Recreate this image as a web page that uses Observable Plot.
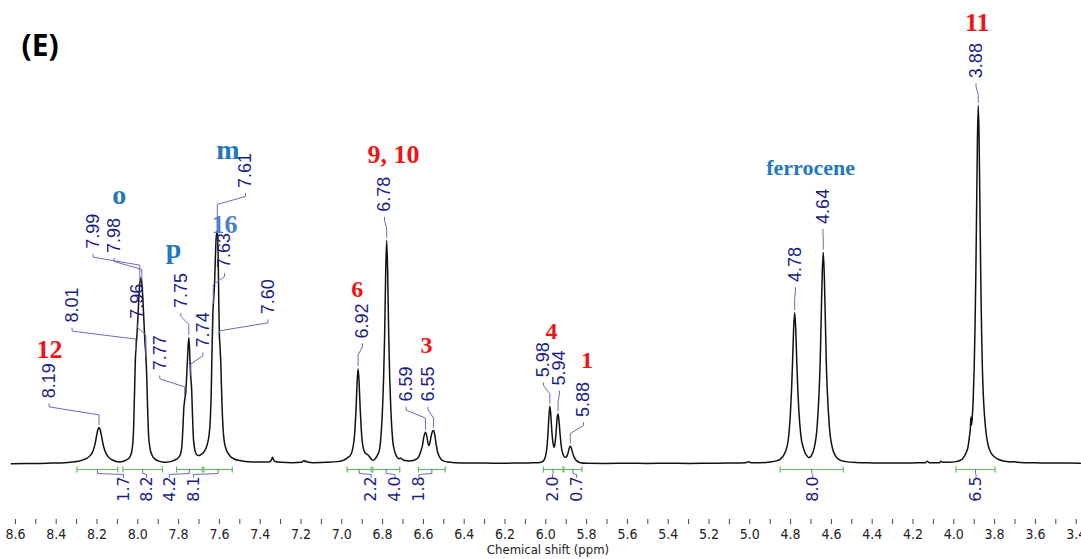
<!DOCTYPE html>
<html>
<head>
<meta charset="utf-8">
<script src="https://cdn.jsdelivr.net/npm/d3@7"></script>
<script src="https://cdn.jsdelivr.net/npm/@observablehq/plot@0.6"></script>
<style>
  html, body { margin: 0; padding: 0; background: #fff; }
  #chart { width: 1081px; height: 559px; overflow: hidden; }
</style>
</head>
<body>
<div id="chart"></div>
<script>
// 1H NMR trace: [chemical shift (ppm), relative intensity], tallest line = 100
const spectrum = [
  [8.62,0.2],[8.55,0.25],[8.48,0.3],[8.42,0.4],[8.36,0.5],[8.32,0.7],[8.29,0.9],[8.27,1.3],
  [8.25,1.7],[8.235,2.4],[8.22,3.7],[8.21,5.6],[8.20,8.6],[8.195,9.8],[8.19,10.3],[8.185,9.8],
  [8.18,8.6],[8.17,5.6],[8.16,3.6],[8.145,2.2],[8.13,1.4],[8.11,0.9],[8.09,0.7],[8.07,0.9],
  [8.055,1.3],[8.04,2.0],[8.03,3.5],[8.022,8],[8.016,20],[8.012,29],[8.008,33],[8.002,38],
  [7.996,45],[7.99,50.5],[7.985,52],[7.98,50.5],[7.975,46],[7.97,40],[7.965,34],[7.961,31],
  [7.957,26],[7.952,16],[7.947,8],[7.94,4.5],[7.93,2.6],[7.915,1.5],[7.90,1.0],[7.88,0.7],
  [7.86,0.6],[7.84,0.8],[7.82,1.2],[7.80,2.0],[7.79,3.0],[7.784,5],[7.779,10],[7.774,16],
  [7.77,18],[7.765,20],[7.76,25],[7.755,31],[7.75,35.4],[7.746,32],[7.743,27],[7.74,24],
  [7.736,21],[7.732,14],[7.727,7],[7.72,4],[7.712,2.8],[7.70,2.5],[7.69,2.8],[7.68,3.2],
  [7.67,4],[7.66,5.5],[7.65,8.5],[7.645,12],[7.64,20],[7.636,32],[7.632,42],[7.628,46],
  [7.624,50],[7.62,57],[7.616,63],[7.61,65.2],[7.606,58],[7.603,45],[7.60,36],[7.597,33],
  [7.593,28],[7.588,18],[7.582,10],[7.575,6],[7.565,4],[7.55,2.5],[7.53,1.6],[7.50,1.1],
  [7.46,0.8],[7.40,0.7],[7.36,0.7],[7.348,1.0],[7.343,1.6],[7.34,2.0],[7.336,1.5],[7.33,0.9],
  [7.30,0.6],[7.24,0.5],[7.20,0.6],[7.19,0.9],[7.185,1.1],[7.18,0.8],[7.175,1.0],[7.17,0.7],
  [7.14,0.5],[7.08,0.6],[7.02,0.8],[6.99,1.2],[6.97,2.0],[6.96,2.4],[6.95,3.6],[6.94,6.8],
  [6.935,10.2],[6.93,15.7],[6.925,22.7],[6.92,26.7],[6.915,22.7],[6.91,15.7],[6.905,10.2],[6.90,6.5],
  [6.893,4.2],[6.885,3.2],[6.878,2.9],[6.87,2.6],[6.86,1.8],[6.852,1.3],[6.845,1.2],[6.835,1.7],
  [6.825,2.6],[6.815,4.2],[6.81,6.5],[6.80,16],[6.795,24],[6.79,36],[6.785,53],[6.78,62.4],
  [6.775,53],[6.77,36],[6.765,24],[6.76,16],[6.75,6.5],[6.74,3.5],[6.73,2.1],[6.72,1.6],
  [6.713,1.8],[6.705,1.5],[6.69,1.1],[6.67,1.0],[6.65,1.1],[6.635,1.5],[6.625,2.0],[6.615,3.3],
  [6.605,5.2],[6.598,7.6],[6.59,9.0],[6.583,7.8],[6.576,5.6],[6.572,5.3],[6.567,6.3],[6.561,8.2],
  [6.555,9.3],[6.55,9.5],[6.544,8.2],[6.537,5.5],[6.53,3.4],[6.52,2.0],[6.505,1.1],[6.48,0.7],
  [6.44,0.5],[6.38,0.4],[6.30,0.4],[6.22,0.35],[6.14,0.4],[6.08,0.45],[6.04,0.5],[6.02,0.7],
  [6.01,1.1],[6.003,2.0],[5.996,4.0],[5.99,8.0],[5.985,13],[5.98,16.2],[5.975,13.5],[5.97,9],
  [5.964,5.8],[5.959,4.8],[5.954,6.2],[5.948,10.2],[5.944,13.2],[5.94,14.1],[5.936,12.6],[5.93,8.5],
  [5.923,4.6],[5.915,2.8],[5.906,2.0],[5.898,2.2],[5.89,3.4],[5.885,4.6],[5.88,5.1],[5.875,4.6],
  [5.869,3.3],[5.86,1.9],[5.848,1.0],[5.83,0.5],[5.80,0.35],[5.70,0.3],[5.60,0.35],[5.50,0.3],
  [5.40,0.35],[5.30,0.3],[5.20,0.35],[5.10,0.4],[5.02,0.5],[5.005,0.8],[4.995,0.5],[4.95,0.5],
  [4.90,0.7],[4.87,1.0],[4.85,1.5],[4.825,3.6],[4.81,7.6],[4.80,15.2],[4.795,21.2],[4.79,29.3],
  [4.785,38],[4.78,42.3],[4.775,38],[4.77,29.3],[4.765,21.3],[4.76,15.5],[4.75,8.2],[4.735,4.2],
  [4.72,2.4],[4.71,1.9],[4.70,2.3],[4.685,4.4],[4.67,10.5],[4.66,20.5],[4.655,28.5],[4.65,41],
  [4.645,53],[4.64,59.1],[4.635,53],[4.63,41],[4.625,28.5],[4.62,20.5],[4.61,10.5],[4.595,4.6],
  [4.58,2.4],[4.56,1.3],[4.53,0.8],[4.48,0.55],[4.40,0.45],[4.30,0.4],[4.20,0.45],[4.14,0.5],
  [4.13,0.9],[4.12,0.5],[4.07,0.5],[4.063,0.9],[4.055,0.6],[4.02,0.6],[3.99,0.8],[3.96,1.4],
  [3.95,2.2],[3.94,3.2],[3.93,5.0],[3.924,7.5],[3.919,10],[3.916,13.2],[3.913,11],[3.909,13.5],
  [3.905,18],[3.90,27],[3.896,38],[3.892,53],[3.888,72],[3.884,91],[3.88,100],[3.876,91],
  [3.872,72],[3.868,53],[3.864,38],[3.86,27],[3.855,19],[3.85,14],[3.84,8],[3.83,5],
  [3.815,3],[3.80,2.1],[3.78,1.4],[3.75,0.9],[3.72,0.7],[3.70,0.8],[3.69,0.6],[3.65,0.5],
  [3.58,0.45],[3.50,0.4],[3.44,0.4],[3.38,0.35]
];

// picked peaks (ppm)
const peakShifts = [8.19, 8.01, 7.99, 7.98, 7.96, 7.77, 7.75, 7.74, 7.63, 7.61, 7.60,
                    6.92, 6.78, 6.59, 6.55, 5.98, 5.94, 5.88, 4.78, 4.64, 3.88];
// where each peak label sits: [ppm, intensity] of the label centre
const peakLabelAt = [[8.435,23.3],[8.322,44.4],[8.219,65.0],[8.116,63.8],[8.003,45.5],
                     [7.892,31.1],[7.789,48.5],[7.681,37.5],[7.575,59.6],[7.472,81.9],[7.362,46.7],
                     [6.899,40.0],[6.791,75.3],[6.685,22.4],[6.577,22.4],
                     [6.011,29.2],[5.933,26.9],[5.815,18.1],[4.776,55.7],[4.641,71.9],[3.891,112.5]];

// proton assignments
const assignText  = ["12", "o", "p", "m", "16", "9, 10", "6", "3", "4", "1", "ferrocene", "11"];
const assignKind  = ["atom", "ring", "ring", "ring", "ring16", "atom", "atom", "atom", "atom", "atom", "ring", "atom"];
const assignAt    = [[8.433,32.1],[8.091,75.1],[7.825,60.1],[7.558,87.6],[7.575,66.9],[6.746,86.2],
                     [6.924,48.7],[6.585,33.1],[5.972,37.2],[5.798,28.9],[4.702,82.5],[3.885,123.2]];

// integrals: range (ppm) and value
const integralRanges = [[8.298,8.098],[8.073,7.879],[7.810,7.684],[7.676,7.537],[6.974,6.856],[6.848,6.716],
                        [6.624,6.493],[6.012,5.916],[5.911,5.823],[4.851,4.542],[3.989,3.798]];
const integralValues = [1.7, 8.2, 4.2, 8.1, 2.2, 4.0, 1.8, 2.0, 0.7, 8.0, 6.5];
const integralLabelPpm = [8.07, 7.957, 7.845, 7.727, 6.856, 6.739, 6.622, 5.967, 5.849, 4.691, 3.891];

// axis ticks (ppm)
const majorTicks = [8.6, 8.4, 8.2, 8.0, 7.8, 7.6, 7.4, 7.2, 7.0, 6.8, 6.6, 6.4, 6.2, 6.0, 5.8, 5.6,
                    5.4, 5.2, 5.0, 4.8, 4.6, 4.4, 4.2, 4.0, 3.8, 3.6, 3.4];
const minorTicks = [8.5, 8.3, 8.1, 7.9, 7.7, 7.5, 7.3, 7.1, 6.9, 6.7, 6.5, 6.3, 6.1, 5.9, 5.7, 5.5,
                    5.3, 5.1, 4.9, 4.7, 4.5, 4.3, 4.1, 3.9, 3.7, 3.5];

// ---------- layout helpers ----------
const U = 100 / 359;            // intensity units per screen pixel
const NAVY = "#1c1c88";
const LEADER = "#6c6cb4";
const GREEN = "#6cb46c";

function valueAt(p) {
  for (let i = 0; i < spectrum.length - 1; i++) {
    const [p0, v0] = spectrum[i], [p1, v1] = spectrum[i + 1];
    if (p <= p0 && p >= p1) return v0 + (v1 - v0) * (p0 - p) / (p0 - p1);
  }
  return 0;
}

const peakLabels = peakShifts.map((s, i) => ({shift: s, lx: peakLabelAt[i][0], ly: peakLabelAt[i][1], text: s.toFixed(2)}));
const leaders = peakLabels.flatMap((d, i) => {
  const start = d.ly - 23 * U, k1 = start - 3 * U, k2 = k1 - 8 * U;
  const end = valueAt(d.shift) + 3 * U;
  return [
    {id: i, x: d.lx, y: start},
    {id: i, x: d.lx, y: k1},
    {id: i, x: d.shift, y: k2},
    {id: i, x: d.shift, y: end}
  ];
});

const BAR = -5 * U;
const integrals = integralRanges.map((r, i) => ({from: r[0], to: r[1], value: integralValues[i], lx: integralLabelPpm[i], mid: (r[0] + r[1]) / 2}));
const integralEnds = integrals.flatMap(d => [d.from, d.to]);
const brackets = integrals.flatMap((d, i) => [
  {id: i, x: d.mid, y: BAR},
  {id: i, x: d.mid, y: BAR - 4 * U},
  {id: i, x: d.lx, y: BAR - 5 * U},
  {id: i, x: d.lx, y: BAR - 8 * U}
]);

const assignments = assignText.map((t, i) => ({text: t, kind: assignKind[i], x: assignAt[i][0], y: assignAt[i][1]}));
const assignColor = {atom: "#f01414", ring: "#1f78c0", ring16: "#4a80cc"};
const assignSize = {"12": 26, "o": 28, "p": 28, "m": 28, "16": 26, "9, 10": 26, "6": 24, "3": 24, "4": 24, "1": 24, "ferrocene": 22, "11": 26};

const chart = Plot.plot({
  width: 1081,
  height: 559,
  marginLeft: 0,
  marginRight: 0,
  marginTop: 105,
  marginBottom: 40,
  x: {domain: [3.374, 8.673], reverse: true},
  y: {domain: [-55 * U, 100], axis: null},
  style: {background: "#fff", overflow: "visible"},
  marks: [
    // integral bars
    Plot.link(integrals, {x1: "from", x2: "to", y1: BAR, y2: BAR, stroke: GREEN, strokeWidth: 1.2}),
    Plot.link(integralEnds, {x1: d => d, x2: d => d, y1: BAR + 3 * U, y2: BAR - 3 * U, stroke: GREEN, strokeWidth: 1.2}),
    Plot.line(brackets, {x: "x", y: "y", z: "id", stroke: LEADER, strokeWidth: 1}),
    Plot.text(integrals, {
      x: "lx", y: BAR - 19.5 * U, text: d => d.value.toFixed(1), rotate: -90,
      fill: NAVY, fontSize: 16, fontFamily: "'DejaVu Sans', sans-serif"
    }),

    // spectrum trace
    Plot.line(spectrum, {x: d => d[0], y: d => d[1], curve: "monotone-x", stroke: "#111", strokeWidth: 1.5}),

    // peak picking labels
    Plot.line(leaders, {x: "x", y: "y", z: "id", stroke: LEADER, strokeWidth: 1}),
    Plot.text(peakLabels, {
      x: "lx", y: "ly", text: "text", rotate: -90,
      fill: NAVY, fontSize: 18, fontFamily: "'Liberation Sans', Arial, sans-serif"
    }),

    // assignments
    Plot.text(assignments, {
      x: "x", y: "y", text: "text",
      fill: d => assignColor[d.kind], fontSize: d => assignSize[d.text],
      fontWeight: "bold", fontFamily: "'Liberation Serif', 'Times New Roman', serif"
    }),

    // panel tag
    Plot.text(["(E)"], {
      frameAnchor: "top-left", dx: 21, dy: -71, textAnchor: "start", text: d => d,
      fontSize: 30, fontWeight: "bold", fill: "#000", fontFamily: "'Open Sans', sans-serif"
    }),

    // chemical shift axis
    Plot.axisX(minorTicks, {anchor: "bottom", tickSize: 5, tickFormat: () => "", label: null, stroke: "#444"}),
    Plot.axisX(majorTicks, {
      anchor: "bottom", tickSize: 5, tickPadding: 5, tickFormat: d3.format(".1f"), label: null,
      stroke: "#444", fill: "#222", fontSize: 14, fontFamily: "'DejaVu Sans Condensed', 'DejaVu Sans', sans-serif"
    }),
    Plot.text(["Chemical shift (ppm)"], {
      frameAnchor: "bottom", dx: 7, dy: 34, text: d => d,
      fill: "#222", fontSize: 13, fontFamily: "'DejaVu Sans Condensed', 'DejaVu Sans', sans-serif"
    })
  ]
});

document.getElementById("chart").appendChild(chart);
</script>
</body>
</html>
